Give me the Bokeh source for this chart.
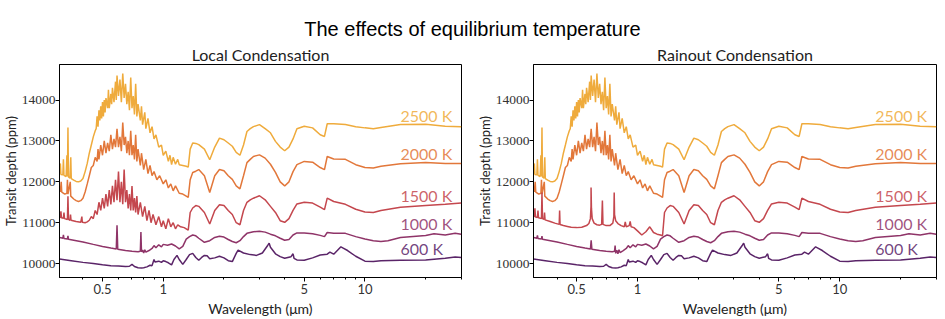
from bokeh.plotting import figure
from bokeh.layouts import column, row
from bokeh.models import Range1d, FixedTicker, CustomJSTickFormatter, Label, Title
from bokeh.embed import file_html
from bokeh.resources import INLINE
from bokeh.core.properties import value

# ---------------- data ----------------
wl_2500 = [
    0.306, 0.309, 0.311, 0.318, 0.320, 0.322, 0.330, 0.333, 0.335, 0.337,
    0.339, 0.345, 0.348, 0.350, 0.36, 0.37, 0.38, 0.39, 0.40, 0.41,
    0.42, 0.43, 0.44, 0.45, 0.46, 0.465, 0.47, 0.475, 0.48, 0.485,
    0.49, 0.495, 0.50, 0.505, 0.51, 0.515, 0.52, 0.53, 0.535, 0.54,
    0.55, 0.555, 0.56, 0.57, 0.58, 0.585, 0.59, 0.60, 0.61, 0.62,
    0.63, 0.64, 0.65, 0.66, 0.67, 0.68, 0.69, 0.70, 0.71, 0.72,
    0.73, 0.74, 0.75, 0.77, 0.78, 0.79, 0.81, 0.82, 0.84, 0.86,
    0.88, 0.90, 0.92, 0.95, 0.98, 1.0, 1.03, 1.06, 1.08, 1.10,
    1.12, 1.15, 1.18, 1.2, 1.25, 1.30, 1.33, 1.36, 1.40, 1.45,
    1.5, 1.6, 1.7, 1.8, 1.9, 2.0, 2.1, 2.2, 2.3, 2.4,
    2.5, 2.6, 2.7, 2.8, 3.0, 3.2, 3.4, 3.6, 3.8, 4.0,
    4.2, 4.4, 4.6, 5.0, 5.5, 6.0, 6.3, 6.5, 7.0, 8.0,
    9.0, 10, 11, 12, 15, 20, 25, 30,
]
d_2500 = [
    12200, 12450, 12180, 12170, 12550, 12160, 12130, 12650, 12130, 13330,
    12120, 12090, 12600, 12080, 12040, 12010, 12000, 12020, 12080, 12250,
    12450, 12700, 12900, 13100, 13250, 13300, 13600, 13350, 13750, 13500,
    13850, 13550, 13950, 13600, 14000, 13700, 14050, 13800, 14250, 13800,
    14150, 13900, 14300, 13950, 14450, 14000, 14600, 14100, 14500, 13950,
    14650, 14050, 14400, 13900, 14200, 13750, 14550, 13800, 14100, 13650,
    14400, 13600, 13900, 13500, 13850, 13400, 13700, 13300, 13550, 13200,
    13350, 13050, 13150, 12850, 12900, 12650, 12750, 12500, 12650, 12420,
    12600, 12430, 12550, 12420, 12400, 12380, 12360, 12800, 12950, 12940,
    12910, 12800, 12540, 12850, 13070, 13030, 12950, 12870, 12720, 12650,
    12900, 13230, 13300, 13350, 13400, 13300, 13200, 12990, 12850, 12760,
    12850, 13050, 13300, 13360, 13320, 13150, 13110, 13420, 13420, 13400,
    13350, 13320, 13300, 13330, 13400, 13410, 13360, 13350,
]

wl_2000 = [
    0.306, 0.309, 0.312, 0.314, 0.325, 0.333, 0.335, 0.337, 0.346, 0.348,
    0.36, 0.37, 0.38, 0.39, 0.40, 0.41, 0.42, 0.43, 0.44, 0.45,
    0.46, 0.47, 0.475, 0.48, 0.49, 0.50, 0.51, 0.52, 0.53, 0.54,
    0.55, 0.56, 0.57, 0.58, 0.59, 0.60, 0.61, 0.62, 0.63, 0.64,
    0.65, 0.66, 0.67, 0.68, 0.69, 0.70, 0.71, 0.72, 0.73, 0.74,
    0.75, 0.77, 0.78, 0.80, 0.82, 0.84, 0.86, 0.88, 0.90, 0.93,
    0.96, 1.0, 1.03, 1.06, 1.09, 1.12, 1.15, 1.2, 1.25, 1.3,
    1.33, 1.36, 1.40, 1.45, 1.5, 1.6, 1.7, 1.8, 1.9, 2.0,
    2.1, 2.2, 2.3, 2.4, 2.5, 2.6, 2.7, 2.8, 3.0, 3.2,
    3.4, 3.6, 3.8, 4.0, 4.2, 4.4, 4.6, 5.0, 5.5, 6.0,
    6.3, 6.5, 7.0, 8.0, 9.0, 10, 11, 12, 15, 20,
    25, 30,
]
d_2000 = [
    11800, 11760, 12000, 11750, 11700, 11720, 12050, 11700, 12000, 11650,
    11580, 11540, 11520, 11540, 11600, 11750, 11950, 12150, 12350, 12400,
    12600, 12500, 12800, 12550, 12900, 12650, 13000, 12700, 12950, 12750,
    13150, 12800, 13050, 12850, 13300, 12850, 13100, 12750, 13450, 12900,
    13100, 12700, 13000, 12650, 13250, 12650, 12900, 12550, 13150, 12500,
    12800, 12400, 12700, 12300, 12550, 12200, 12400, 12150, 12250, 12050,
    12150, 11950, 12050, 11850, 11950, 11780, 11900, 11720, 11700, 11650,
    11620, 12050, 12230, 12260, 12300, 12150, 11740, 12150, 12300, 12270,
    12150, 12060, 11900, 11830, 12150, 12470, 12550, 12620, 12660, 12580,
    12430, 12230, 12000, 11900, 12000, 12250, 12420, 12500, 12480, 12350,
    12300, 12620, 12560, 12550, 12420, 12350, 12340, 12380, 12440, 12470,
    12450, 12450,
]

wl_1500_local = [
    0.306, 0.309, 0.311, 0.313, 0.320, 0.322, 0.324, 0.335, 0.337, 0.339,
    0.345, 0.347, 0.349, 0.37, 0.39, 0.395, 0.397, 0.41, 0.42, 0.43,
    0.44, 0.45, 0.46, 0.47, 0.48, 0.49, 0.50, 0.51, 0.52, 0.53,
    0.54, 0.55, 0.56, 0.57, 0.58, 0.59, 0.60, 0.61, 0.62, 0.63,
    0.64, 0.65, 0.66, 0.67, 0.68, 0.69, 0.70, 0.71, 0.72, 0.73,
    0.74, 0.75, 0.77, 0.79, 0.81, 0.83, 0.85, 0.87, 0.89, 0.92,
    0.95, 0.98, 1.0, 1.03, 1.06, 1.09, 1.12, 1.15, 1.18, 1.22,
    1.27, 1.33, 1.36, 1.40, 1.45, 1.5, 1.6, 1.7, 1.8, 1.9,
    2.0, 2.1, 2.2, 2.3, 2.4, 2.5, 2.6, 2.7, 2.8, 3.0,
    3.2, 3.4, 3.6, 3.8, 4.0, 4.2, 4.4, 4.6, 5.0, 5.5,
    6.0, 6.3, 6.5, 7.0, 8.0, 9.0, 10, 11, 12, 15,
    20, 25, 30,
]
d_1500_local = [
    11130, 11130, 11280, 11120, 11110, 11250, 11100, 11080, 11650, 11080,
    11060, 11200, 11060, 11030, 11010, 11150, 11010, 11000, 11020, 11060,
    11150, 11100, 11300, 11200, 11500, 11300, 11600, 11350, 11700, 11400,
    11800, 11450, 11900, 11500, 12050, 11550, 12250, 11500, 12000, 11450,
    12300, 11500, 11800, 11350, 11700, 11300, 11900, 11300, 11600, 11250,
    11650, 11200, 11500, 11150, 11400, 11050, 11300, 11000, 11200, 10950,
    11150, 10900, 11050, 10850, 11100, 10900, 11000, 10850, 10950, 10900,
    10880, 10820, 11250, 11360, 11420, 11400, 11250, 10970, 11300, 11440,
    11420, 11300, 11200, 11000, 10950, 11300, 11500, 11560, 11600, 11660,
    11560, 11400, 11250, 11050, 11010, 11100, 11300, 11460, 11500, 11480,
    11380, 11320, 11600, 11520, 11450, 11330, 11260, 11250, 11300, 11380,
    11420, 11450, 11480,
]

wl_1500_rain = [
    0.306, 0.309, 0.311, 0.313, 0.320, 0.322, 0.324, 0.335, 0.337, 0.339,
    0.345, 0.347, 0.349, 0.37, 0.39, 0.41, 0.412, 0.414, 0.43, 0.45,
    0.47, 0.50, 0.53, 0.56, 0.575, 0.585, 0.589, 0.5893, 0.592, 0.597,
    0.61, 0.63, 0.65, 0.665, 0.6705, 0.675, 0.70, 0.73, 0.755, 0.764,
    0.767, 0.770, 0.78, 0.80, 0.83, 0.86, 0.87, 0.88, 0.91, 0.92,
    0.93, 0.96, 1.0, 1.05, 1.1, 1.15, 1.2, 1.25, 1.3, 1.33,
    1.36, 1.40, 1.45, 1.5, 1.6, 1.7, 1.8, 1.9, 2.0, 2.1,
    2.2, 2.3, 2.4, 2.5, 2.6, 2.7, 2.8, 3.0, 3.2, 3.4,
    3.6, 3.8, 4.0, 4.2, 4.4, 4.6, 5.0, 5.5, 6.0, 6.3,
    6.5, 7.0, 8.0, 9.0, 10, 11, 12, 15, 20, 25,
    30,
]
d_1500_rain = [
    11150, 11150, 11350, 11140, 11130, 11300, 11120, 11100, 11740, 11100,
    11080, 11250, 11070, 11030, 10990, 10960, 11300, 10955, 10930, 10910,
    10890, 10880, 10890, 10930, 10980, 11100, 11400, 11860, 11350, 11100,
    10990, 10950, 10940, 10960, 11540, 10960, 10930, 10930, 10990, 11150,
    11740, 11200, 11050, 10980, 10930, 10900, 11020, 10900, 10930, 11030,
    10900, 10880, 10800, 10700, 10780, 10900, 10760, 10720, 10700, 10680,
    11250, 11360, 11420, 11400, 11250, 10970, 11300, 11440, 11420, 11300,
    11200, 11000, 10950, 11300, 11500, 11560, 11600, 11660, 11560, 11400,
    11250, 11050, 11010, 11100, 11300, 11460, 11500, 11480, 11380, 11320,
    11600, 11520, 11450, 11330, 11260, 11250, 11300, 11380, 11420, 11450,
    11480,
]

wl_1000 = [
    0.306, 0.315, 0.318, 0.32, 0.322, 0.335, 0.337, 0.339, 0.40, 0.45,
    0.50, 0.55, 0.585, 0.59, 0.595, 0.65, 0.70, 0.75, 0.77, 0.775,
    0.78, 0.79, 0.80, 0.81, 0.82, 0.85, 0.88, 0.90, 0.92, 0.95,
    0.98, 1.0, 1.05, 1.1, 1.15, 1.2, 1.25, 1.3, 1.35, 1.4,
    1.45, 1.5, 1.6, 1.7, 1.8, 1.9, 2.0, 2.1, 2.2, 2.3,
    2.4, 2.5, 2.6, 2.8, 3.0, 3.2, 3.4, 3.6, 3.8, 4.0,
    4.2, 4.4, 4.6, 5.0, 5.5, 6.0, 6.3, 6.5, 7.0, 8.0,
    9.0, 10, 11, 12, 13, 15, 20, 22, 25, 28,
    30,
]
d_1000_local = [
    10640, 10625, 10620, 10700, 10615, 10600, 10680, 10595, 10530, 10470,
    10420, 10380, 10355, 10935, 10350, 10320, 10300, 10290, 10300, 10770,
    10290, 10330, 10260, 10340, 10280, 10320, 10370, 10440, 10390, 10460,
    10410, 10470, 10450, 10480, 10430, 10360, 10420, 10600, 10660, 10700,
    10680, 10620, 10520, 10560, 10640, 10670, 10650, 10590, 10540, 10510,
    10560, 10660, 10740, 10780, 10790, 10770, 10720, 10680, 10620, 10570,
    10590, 10700, 10750, 10750, 10730, 10690, 10660, 10760, 10740, 10740,
    10660, 10600, 10560, 10540, 10560, 10640, 10690, 10730, 10700, 10740,
    10720,
]
d_1000_rain = [
    10640, 10625, 10620, 10690, 10615, 10600, 10670, 10595, 10530, 10470,
    10420, 10380, 10355, 10570, 10350, 10320, 10300, 10290, 10300, 10440,
    10250, 10330, 10240, 10340, 10270, 10320, 10370, 10440, 10390, 10460,
    10410, 10470, 10450, 10480, 10430, 10360, 10420, 10600, 10660, 10700,
    10680, 10620, 10520, 10560, 10640, 10670, 10650, 10590, 10540, 10510,
    10560, 10660, 10740, 10780, 10790, 10770, 10720, 10680, 10620, 10570,
    10590, 10700, 10750, 10750, 10730, 10690, 10660, 10760, 10740, 10740,
    10660, 10600, 10560, 10540, 10560, 10640, 10690, 10730, 10700, 10740,
    10720,
]

wl_600 = [
    0.306, 0.35, 0.40, 0.45, 0.50, 0.55, 0.60, 0.65, 0.68, 0.70,
    0.72, 0.75, 0.78, 0.80, 0.83, 0.86, 0.88, 0.90, 0.91, 0.95,
    0.98, 1.0, 1.03, 1.06, 1.1, 1.13, 1.17, 1.2, 1.25, 1.3,
    1.35, 1.4, 1.45, 1.5, 1.55, 1.6, 1.65, 1.7, 1.8, 1.9,
    2.0, 2.1, 2.2, 2.3, 2.35, 2.5, 2.7, 2.9, 3.1, 3.3,
    3.35, 3.4, 3.6, 3.8, 4.0, 4.3, 4.4, 4.45, 4.6, 5.0,
    5.5, 6.0, 6.5, 6.7, 7.0, 7.6, 7.8, 8.2, 9.0, 10,
    11, 12, 15, 20, 25, 28, 30,
]
d_600 = [
    10110, 10070, 10030, 10000, 9970, 9950, 9940, 9930, 9935, 9980,
    9930, 9900, 9890, 9900, 9920, 9960, 9950, 10100, 10040, 10060,
    10030, 10070, 10050, 10020, 9970, 10100, 10200, 10100, 9980, 10100,
    10220, 10250, 10150, 10080, 10150, 10200, 10190, 10120, 10140, 10180,
    10140, 10070, 10050, 10250, 10330, 10260, 10220, 10200, 10260, 10450,
    10500, 10400, 10240, 10170, 10130, 10170, 10240, 10130, 10090, 10080,
    10140, 10210, 10230, 10280, 10230, 10410, 10380, 10320, 10180, 10060,
    10050, 10070, 10080, 10090, 10130, 10160, 10150,
]

temp_labels = ["2500 K", "2000 K", "1500 K", "1000 K", "600 K"]
label_depth = [13616, 12699, 11662, 10987, 10360]
LABEL_WL = 15.0
colors = ["#efab3c", "#e2773a", "#c4474e", "#8f3468", "#5a2468"]

x_major = [0.5, 1, 5, 10]
x_minor = [0.3, 0.4, 0.6, 0.7, 0.8, 0.9, 2, 3, 4, 6, 7, 8, 9, 20, 30]
y_major = [10000, 11000, 12000, 13000, 14000]

panels = [
    ("Local Condensation",
     [(wl_2500, d_2500), (wl_2000, d_2000), (wl_1500_local, d_1500_local),
      (wl_1000, d_1000_local), (wl_600, d_600)]),
    ("Rainout Condensation",
     [(wl_2500, d_2500), (wl_2000, d_2000), (wl_1500_rain, d_1500_rain),
      (wl_1000, d_1000_rain), (wl_600, d_600)]),
]


def make_panel(title, series, width, border_left, border_right):
    p = figure(width=width, height=279, x_axis_type="log",
               x_range=Range1d(0.306, 30.1), y_range=Range1d(9660, 14870),
               output_backend="svg", toolbar_location=None, title=title,
               min_border_left=border_left, min_border_right=border_right,
               min_border_top=24, min_border_bottom=39)
    p.title.align = "center"
    p.title.text_font = "Lato"
    p.title.text_font_size = "16px"
    p.title.text_font_style = "normal"
    p.title.text_color = "#222222"
    p.title.standoff = 2
    p.grid.visible = False
    p.outline_line_color = "black"
    p.outline_line_alpha = 1.0
    p.background_fill_color = "white"
    p.border_fill_color = "white"

    for (wl, d), c in zip(series, colors):
        p.line(wl, d, line_color=c, line_width=1.5)

    p.text(x=[LABEL_WL] * len(temp_labels), y=label_depth, text=temp_labels,
           text_color=colors, text_alpha=0.85, text_font=value("Lato"),
           text_font_size="16px", text_align="left", text_baseline="middle")

    xa = p.xaxis[0]
    xa.ticker = FixedTicker(ticks=x_major, minor_ticks=x_minor)
    xa.formatter = CustomJSTickFormatter(code="return String(tick);")
    xa.axis_label = "Wavelength (μm)"
    ya = p.yaxis[0]
    ya.ticker = FixedTicker(ticks=y_major, minor_ticks=[])
    for ax in (xa, ya):
        ax.axis_line_color = "black"
        ax.major_tick_line_color = "black"
        ax.minor_tick_line_color = "black"
        ax.major_tick_in = 0
        ax.major_tick_out = 4
        ax.minor_tick_in = 0
        ax.minor_tick_out = 2
        ax.major_label_text_color = "#333333"
    xa.axis_label_text_font = "Lato"
    xa.axis_label_text_font_size = "14px"
    xa.axis_label_text_font_style = "normal"
    xa.axis_label_text_color = "#222222"
    xa.major_label_standoff = 2
    xa.axis_label_standoff = 3
    ya.major_label_standoff = 0
    xa.major_label_text_font = "Lato"
    xa.major_label_text_font_size = "13px"
    ya.major_label_text_font = "Liberation Serif"
    ya.major_label_text_font_size = "13.5px"

    # y-axis title as a side title placed left of the tick labels
    ytitle = Title(text="Transit depth (ppm)", align="center",
                   text_font="Lato", text_font_size="13px",
                   text_font_style="normal", text_color="#222222",
                   standoff=0, offset=0)
    p.add_layout(ytitle, "left")
    return p


p1 = make_panel(panels[0][0], panels[0][1], 472, 58, 11)
p2 = make_panel(panels[1][0], panels[1][1], 473, 61, 9)

t = figure(width=945, height=40, x_range=Range1d(0, 945), y_range=Range1d(0, 40),
           output_backend="svg", toolbar_location=None, min_border=0,
           x_axis_location=None, y_axis_location=None)
t.grid.visible = False
t.outline_line_color = None
t.add_layout(Label(x=472, y=12, text="The effects of equilibrium temperature",
                   text_align="center", text_baseline="alphabetic",
                   text_font="Liberation Sans", text_font_size="20px",
                   text_color="black"))

layout = column(t, row(p1, p2, spacing=0), spacing=0)
open("out.html", "w").write(file_html(layout, INLINE))
